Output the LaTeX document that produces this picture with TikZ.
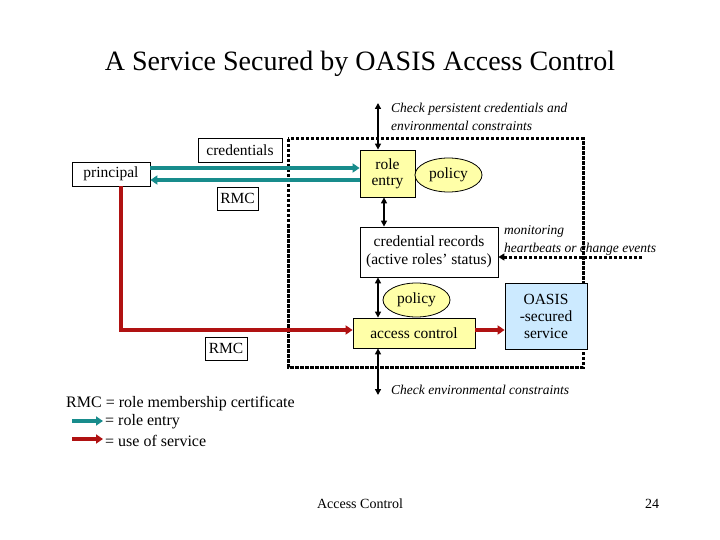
\documentclass[tikz,border=0pt]{standalone}
\usepackage{fontspec}
\setmainfont{Liberation Serif}
\usetikzlibrary{positioning}
\usetikzlibrary{shapes.geometric}
\usetikzlibrary{arrows.meta}

\definecolor{roleteal}{RGB}{24,140,140}
\definecolor{usered}{RGB}{176,18,18}
\definecolor{boxyellow}{RGB}{255,255,168}
\definecolor{boxblue}{RGB}{204,234,255}

\begin{document}
\begin{tikzpicture}[
        x=1pt, y=-1pt,
        box/.style = {
            draw,
            line width = 0.8pt,
            fill = white,
            font = \fontsize{15.5}{18}\selectfont,
            align = center,
            inner sep = 1pt,
            minimum width = #1
        },
        box/.default = 40pt,
        ybox/.style = {box=#1, fill=boxyellow},
        ybox/.default = 50pt,
        bubble/.style = {
            draw,
            ellipse,
            line width = 0.8pt,
            fill = boxyellow,
            font = \fontsize{15.5}{18}\selectfont,
            minimum width = 67pt,
            minimum height = 34pt,
            inner sep = 0pt
        },
        note/.style = {
            font = \fontsize{13.5}{18}\selectfont\itshape,
            align = left,
            inner sep = 0pt
        },
        plain/.style = {
            font = \fontsize{16}{18}\selectfont,
            inner sep = 0pt
        },
        both/.style = {
            line width = 1.4pt,
            {Triangle[length=6pt,width=6pt]}-{Triangle[length=6pt,width=6pt]}
        },
        roleflow/.style = {
            line width = 4.5pt,
            roleteal,
            -{Triangle[length=7pt,width=9pt]}
        },
        serviceflow/.style = {
            line width = 4pt,
            usered,
            -{Triangle[length=7pt,width=9pt]}
        }
            ]
            \useasboundingbox (0,0) rectangle (720,540);

            % title
            \node[font=\fontsize{28}{32}\selectfont] (title) at (360,64) {A Service Secured by OASIS Access Control};

            % secured area
            \draw[line width = 3pt, dash pattern = on 3.5pt off 1.5pt] (288,139) rectangle (583,367);

            \node[box=78pt, minimum height=24pt] (principal) at (111,174) {principal};
            \node[box=84pt, minimum height=24pt] (credentials) at (240,150) {credentials};
            \node[box=41pt, minimum height=23pt] (rmc1) at (237.5,198.5) {RMC};

            \node[ybox=55pt, minimum height=47pt] (role) at (387.5,173.5) {role\\[-2pt]entry};
            \node[bubble] (policy1) at (448.5,175) {policy};

            \node[box=138pt, minimum height=50pt] (records) at (429,252) {credential records\\(active roles’ status)};

            \node[bubble] (policy2) at (416.5,300) {policy};
            \node[ybox=122pt, minimum height=30pt] (access) at (414,333) {access control};
            \node[box=82pt, minimum height=66pt, fill=boxblue] (oasis) at (546,316) {OASIS\\[-1pt]-secured\\[-1pt]service};

            \node[box=42pt, minimum height=23pt] (rmc2) at (226,348.5) {RMC};

            % checks
            \coordinate (check1) at (378,103);
            \coordinate (check2) at (378,395);
            \coordinate (monitor) at (642,257);

            \node[note, anchor=north west] (check1text) at (391,103) {Check persistent credentials and\\environmental constraints};
            \node[note, anchor=north west] (monitortext) at (504,225) {monitoring\\heartbeats or change events};
            \node[note, anchor=west] (check2text) at (391,390) {Check environmental constraints};

            \draw[both] (check1) -- (check1 |- role.north);
            \draw[both] ([xshift=-3.5pt]role.south) -- ([xshift=-3.5pt]role.south |- records.north);
            \draw[both] ([xshift=-51pt]records.south) -- ([xshift=-51pt]records.south |- access.north);
            \draw[both] ([xshift=-36pt]access.south) -- (check2);
            \draw[line width = 3pt, dash pattern = on 3.5pt off 1.5pt, -{Triangle[length=6pt,width=7pt]}] (monitor) -- (monitor -| records.east);

            % flows
            \draw[roleflow] ([yshift=6pt]principal.east) -- ([yshift=6pt]principal.east -| role.west);
            \draw[roleflow] ([yshift=-6pt]principal.east -| role.west) -- ([yshift=-6pt]principal.east);
            \draw[serviceflow] ([xshift=10pt]principal.south) |- ([yshift=3pt]access.west);
            \draw[serviceflow] ([yshift=3pt]access.east) -- ([yshift=3pt]access.east -| oasis.west);

            % legend
            \node[plain, anchor=west] (legend1) at (66,404) {RMC = role membership certificate};
            \coordinate (tealstart) at (72,421);
            \coordinate (tealend) at (103,421);
            \coordinate (redstart) at (72,439);
            \coordinate (redend) at (103,439);
            \draw[roleflow, line width=3.5pt] (tealstart) -- (tealend);
            \draw[serviceflow, line width=3.5pt] (redstart) -- (redend);
            \node[plain, anchor=west] (legend2) at (105,422) {= role entry};
            \node[plain, anchor=west] (legend3) at (105,441) {= use of service};

            % footer
            \node[font=\fontsize{14}{16}\selectfont] (footer) at (360,504) {Access Control};
            \node[font=\fontsize{14}{16}\selectfont] (page) at (652,504) {24};
        \end{tikzpicture}
\end{document}
